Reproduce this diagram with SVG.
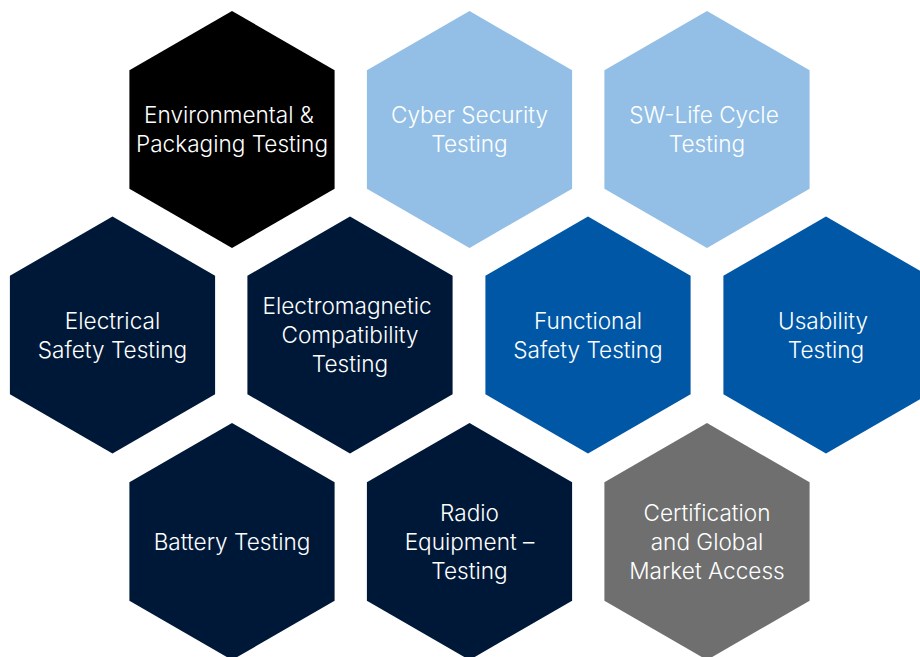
<svg xmlns="http://www.w3.org/2000/svg" width="920" height="657" viewBox="0 0 920 657">
  <defs>
    <!-- pointy-top hexagon, circumradius 118.5, centred on the origin -->
    <polygon id="hex" points="0,-118.5 102.6,-59.25 102.6,59.25 0,118.5 -102.6,59.25 -102.6,-59.25"/>
  </defs>
  <style>
    .label { font-family: Inter, "Liberation Sans", sans-serif; font-size: 22.6px; font-weight: 300; fill: #ffffff; text-anchor: middle; }
    .black { fill: #000000; }
    .light { fill: #93bfe6; }
    .navy { fill: #001838; }
    .blue { fill: #0057a5; }
    .grey { fill: #6e6f6e; }
  </style>
  <rect width="920" height="657" fill="#ffffff"/>

  <!-- top row -->
  <g id="environmental" transform="translate(232,129.5)">
    <use href="#hex" class="black"/>
    <text class="label" x="-3" y="-6.5">Environmental &amp;</text>
    <text class="label" y="22.5">Packaging Testing</text>
  </g>
  <g id="cyber-security" transform="translate(469.5,129.5)">
    <use href="#hex" class="light"/>
    <text class="label" y="-6.5">Cyber Security</text>
    <text class="label" y="22.5">Testing</text>
  </g>
  <g id="sw-life-cycle" transform="translate(707,129.5)">
    <use href="#hex" class="light"/>
    <text class="label" x="-3" y="-6.5">SW-Life Cycle</text>
    <text class="label" y="22.5">Testing</text>
  </g>

  <!-- middle row -->
  <g id="electrical-safety" transform="translate(112.5,335)">
    <use href="#hex" class="navy"/>
    <text class="label" y="-6.5">Electrical</text>
    <text class="label" y="22.5">Safety Testing</text>
  </g>
  <g id="emc" transform="translate(350,335)">
    <use href="#hex" class="navy"/>
    <text class="label" x="-3" y="-21">Electromagnetic</text>
    <text class="label" y="8">Compatibility</text>
    <text class="label" y="37">Testing</text>
  </g>
  <g id="functional-safety" transform="translate(588,335)">
    <use href="#hex" class="blue"/>
    <text class="label" y="-6.5">Functional</text>
    <text class="label" y="22.5">Safety Testing</text>
  </g>
  <g id="usability" transform="translate(826,335)">
    <use href="#hex" class="blue"/>
    <text class="label" x="-3" y="-6.5">Usability</text>
    <text class="label" y="22.5">Testing</text>
  </g>

  <!-- bottom row -->
  <g id="battery" transform="translate(232,541.5)">
    <use href="#hex" class="navy"/>
    <text class="label" y="8">Battery Testing</text>
  </g>
  <g id="radio-equipment" transform="translate(469.5,541.5)">
    <use href="#hex" class="navy"/>
    <text class="label" y="-21">Radio</text>
    <text class="label" y="8">Equipment –</text>
    <text class="label" y="37">Testing</text>
  </g>
  <g id="certification" transform="translate(707,541.5)">
    <use href="#hex" class="grey"/>
    <text class="label" y="-21">Certification</text>
    <text class="label" y="8">and Global</text>
    <text class="label" y="37">Market Access</text>
  </g>

  <g id="connectors"/>
</svg>
